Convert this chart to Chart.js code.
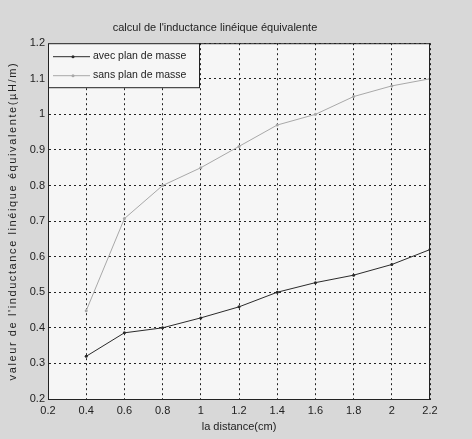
<!DOCTYPE html>
<html>
<head>
<meta charset="utf-8">
<script src="https://cdn.jsdelivr.net/npm/chart.js@4/dist/chart.umd.min.js"></script>
<style>
  html, body { margin: 0; padding: 0; background: #dadada; }
  #wrap { width: 472px; height: 439px; }
</style>
</head>
<body>
<div id="wrap"><canvas id="c" width="472" height="439"></canvas></div>
<script>
// distance entre conducteurs (cm)
var DISTANCE = [0.4, 0.6, 0.8, 1.0, 1.2, 1.4, 1.6, 1.8, 2.0, 2.2];
// inductance linéique équivalente (µH/m)
var AVEC_PLAN = [0.32, 0.386, 0.40, 0.428, 0.459, 0.50, 0.527, 0.548, 0.578, 0.62];
var SANS_PLAN = [0.448, 0.707, 0.80, 0.85, 0.91, 0.97, 1.00, 1.05, 1.08, 1.10];
var SERIES = ['avec plan de masse', 'sans plan de masse'];

var FONT = '"Liberation Sans", Arial, sans-serif';

function pts(ys) {
  return DISTANCE.map(function (x, i) { return { x: x, y: ys[i] }; });
}

// fond gris + zone de tracé claire, cadre complet et légende encadrée
var frame = {
  id: 'frame',
  beforeDraw: function (chart) {
    var ctx = chart.ctx, a = chart.chartArea;
    ctx.save();
    ctx.fillStyle = '#d8d8d8';
    ctx.fillRect(0, 0, chart.width, chart.height);
    ctx.fillStyle = '#f6f6f6';
    ctx.fillRect(a.left, a.top, a.right - a.left, a.bottom - a.top);
    ctx.restore();
  },
  afterDraw: function (chart) {
    var ctx = chart.ctx, a = chart.chartArea;
    ctx.save();
    ctx.strokeStyle = '#222';
    ctx.lineWidth = 1;
    ctx.strokeRect(a.left + 0.5, a.top + 0.5, a.right - a.left - 1, a.bottom - a.top);

    // légende
    var bx = a.left, by = a.top, bw = 151, bh = 44;
    ctx.fillStyle = '#f6f6f6';
    ctx.fillRect(bx, by, bw, bh);
    ctx.strokeRect(bx + 0.5, by + 0.5, bw, bh);
    ctx.font = '10.5px ' + FONT;
    ctx.textBaseline = 'middle';
    chart.data.datasets.forEach(function (ds, i) {
      var y = by + 13 + i * 19;
      ctx.strokeStyle = ds.borderColor;
      ctx.beginPath();
      ctx.moveTo(bx + 5, y + 0.5);
      ctx.lineTo(bx + 42, y + 0.5);
      ctx.stroke();
      ctx.fillStyle = ds.borderColor;
      ctx.beginPath();
      ctx.arc(bx + 25, y + 0.5, 1.5, 0, Math.PI * 2);
      ctx.fill();
      ctx.fillStyle = '#222';
      ctx.fillText(ds.label, bx + 45, y);
    });
    ctx.restore();
  }
};

function fmt(v) { return String(Number(v.toFixed(1))); }

// titre vertical un peu espacé
function spacedTitle(s) {
  if (s._spaced) return;
  var orig = s.drawTitle;
  s.drawTitle = function () {
    this.ctx.save();
    this.ctx.letterSpacing = '1.6px';
    orig.apply(this, arguments);
    this.ctx.restore();
  };
  s._spaced = true;
}

new Chart(document.getElementById('c').getContext('2d'), {
  type: 'line',
  data: {
    datasets: [
      { label: SERIES[0], data: pts(AVEC_PLAN), borderColor: '#2a2a2a', backgroundColor: '#2a2a2a',
        borderWidth: 1, pointRadius: 1.5, pointBorderWidth: 0, tension: 0 },
      { label: SERIES[1], data: pts(SANS_PLAN), borderColor: '#a8a8a8', backgroundColor: '#a8a8a8',
        borderWidth: 1, pointRadius: 1.5, pointBorderWidth: 0, tension: 0 }
    ]
  },
  options: {
    responsive: false, animation: false,
    layout: { padding: { left: 0, right: 42, top: 0, bottom: 0 } },
    plugins: {
      legend: { display: false },
      tooltip: { enabled: false },
      title: {
        display: true, text: "calcul de l'inductance linéique équivalente",
        color: '#222', font: { family: FONT, size: 11, weight: 'normal' },
        padding: { top: 21, bottom: 9 }
      }
    },
    scales: {
      x: {
        type: 'linear', min: 0.2, max: 2.2,
        ticks: { stepSize: 0.2, color: '#222', padding: 5, font: { family: FONT, size: 11 },
          callback: function (v) { return fmt(v); } },
        grid: { color: '#222', lineWidth: 1, drawTicks: false },
        border: { display: true, color: '#222', dash: [2, 3] },
        title: { display: true, text: 'la distance(cm)', color: '#222',
          font: { family: FONT, size: 11 }, padding: { top: 0, bottom: 5 } },
        afterFit: function (s) { s.height = 40; }
      },
      y: {
        min: 0.2, max: 1.2,
        ticks: { stepSize: 0.1, color: '#222', padding: 3, font: { family: FONT, size: 11 },
          callback: function (v) { return fmt(v); } },
        grid: { color: '#222', lineWidth: 1, drawTicks: false },
        border: { display: true, color: '#222', dash: [2, 3] },
        title: { display: true, text: "valeur de l'inductance linéique équivalente(µH/m)", color: '#222',
          font: { family: FONT, size: 11 }, padding: { top: 6, bottom: 0 } },
        afterFit: function (s) { s.width = 48; spacedTitle(s); }
      }
    }
  },
  plugins: [frame]
});
</script>
</body>
</html>
